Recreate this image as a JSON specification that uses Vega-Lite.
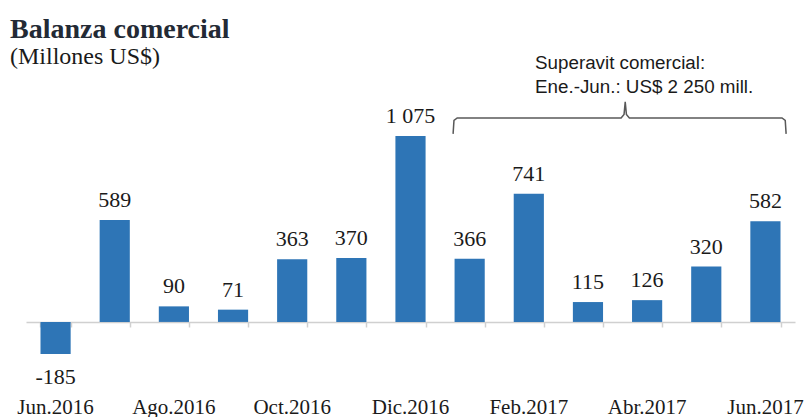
{
  "$schema": "https://vega.github.io/schema/vega-lite/v6.json",
  "width": 769,
  "height": 292,
  "autosize": {"type": "none"},
  "padding": {"left": 26, "right": 9, "top": 100, "bottom": 25},
  "background": "white",
  "title": {
    "text": "Balanza comercial",
    "subtitle": "(Millones US$)",
    "anchor": "start",
    "frame": "group",
    "dx": -16,
    "offset": -15,
    "font": "Liberation Serif",
    "fontSize": 28,
    "fontWeight": "bold",
    "color": "#232a35",
    "subtitleFont": "Liberation Serif",
    "subtitleFontSize": 24,
    "subtitleColor": "#1a1a1a",
    "subtitlePadding": 1
  },
  "config": {
    "view": {"stroke": null},
    "locale": {
      "number": {
        "decimal": ",",
        "thousands": " ",
        "grouping": [3],
        "currency": ["", ""],
        "minus": "-"
      }
    }
  },
  "datasets": {
    "balanza": [
      {"mes": "Jun.2016", "valor": -185},
      {"mes": "Jul.2016", "valor": 589},
      {"mes": "Ago.2016", "valor": 90},
      {"mes": "Set.2016", "valor": 71},
      {"mes": "Oct.2016", "valor": 363},
      {"mes": "Nov.2016", "valor": 370},
      {"mes": "Dic.2016", "valor": 1075},
      {"mes": "Ene.2017", "valor": 366},
      {"mes": "Feb.2017", "valor": 741},
      {"mes": "Mar.2017", "valor": 115},
      {"mes": "Abr.2017", "valor": 126},
      {"mes": "May.2017", "valor": 320},
      {"mes": "Jun.2017", "valor": 582}
    ],
    "llave": [
      {"u": 7.22, "v": 1087, "o": 1},
      {"u": 7.235, "v": 1165, "o": 2},
      {"u": 7.29, "v": 1179, "o": 3},
      {"u": 10.06, "v": 1179, "o": 4},
      {"u": 10.11, "v": 1200, "o": 5},
      {"u": 10.13, "v": 1272, "o": 6},
      {"u": 10.15, "v": 1200, "o": 7},
      {"u": 10.2, "v": 1179, "o": 8},
      {"u": 12.78, "v": 1179, "o": 9},
      {"u": 12.835, "v": 1165, "o": 10},
      {"u": 12.85, "v": 1087, "o": 11}
    ],
    "nota": [
      {"u": 8.605, "v": 1497, "t": "Superavit comercial:"},
      {"u": 8.605, "v": 1358, "t": "Ene.-Jun.: US$ 2 250 mill."}
    ]
  },
  "layer": [
    {
      "data": {"name": "balanza"},
      "encoding": {
        "y": {
          "field": "valor",
          "type": "quantitative",
          "scale": {"domain": [-405, 1283], "nice": false, "zero": false},
          "axis": null
        }
      },
      "layer": [
        {
          "mark": {"type": "bar", "opacity": 0},
          "encoding": {
            "x": {
              "field": "mes",
              "type": "nominal",
              "sort": null,
              "scale": {"paddingInner": 0.49, "paddingOuter": 0.245},
              "axis": {
                "title": null,
                "orient": "bottom",
                "offset": -70,
                "labels": false,
                "domain": true,
                "domainColor": "#d0d0d0",
                "domainWidth": 1.5,
                "ticks": true,
                "tickBand": "extent",
                "tickColor": "#d0d0d0",
                "tickWidth": 1.5,
                "tickSize": 5,
                "zindex": 0
              }
            }
          }
        },
        {
          "mark": {"type": "bar", "color": "#2e75b6"},
          "encoding": {
            "x": {
              "field": "mes",
              "type": "nominal",
              "sort": null,
              "axis": {
                "title": null,
                "orient": "bottom",
                "domain": false,
                "ticks": false,
                "labelAngle": 0,
                "labelOverlap": false,
                "values": ["Jun.2016", "Ago.2016", "Oct.2016", "Dic.2016", "Feb.2017", "Abr.2017", "Jun.2017"],
                "labelFont": "Liberation Serif",
                "labelFontSize": 21,
                "labelColor": "#1a1a1a",
                "labelPadding": 4
              }
            }
          }
        },
        {
          "transform": [{"filter": "datum.valor >= 0"}],
          "mark": {"type": "text", "font": "Liberation Serif", "fontSize": 22, "color": "#1a1a1a", "baseline": "alphabetic", "dy": -13},
          "encoding": {
            "x": {"field": "mes", "type": "nominal", "sort": null, "axis": null},
            "text": {"field": "valor", "type": "quantitative", "format": ",d"}
          }
        },
        {
          "transform": [{"filter": "datum.valor < 0"}],
          "mark": {"type": "text", "font": "Liberation Serif", "fontSize": 22, "color": "#1a1a1a", "baseline": "alphabetic", "dy": 30},
          "encoding": {
            "x": {"field": "mes", "type": "nominal", "sort": null, "axis": null},
            "text": {"field": "valor", "type": "quantitative", "format": ",d"}
          }
        }
      ],
      "resolve": {"axis": {"x": "independent"}}
    },
    {
      "data": {"name": "llave"},
      "mark": {"type": "line", "color": "#595959", "strokeWidth": 1.5, "clip": false},
      "encoding": {
        "x": {"field": "u", "type": "quantitative", "scale": {"domain": [0, 13], "nice": false, "zero": true}, "axis": null},
        "y": {"field": "v", "type": "quantitative"},
        "order": {"field": "o", "type": "quantitative"}
      }
    },
    {
      "data": {"name": "nota"},
      "mark": {"type": "text", "font": "Liberation Sans", "fontSize": 18.8, "color": "#1a1a1a", "align": "left", "baseline": "middle"},
      "encoding": {
        "x": {"field": "u", "type": "quantitative", "scale": {"domain": [0, 13], "nice": false, "zero": true}, "axis": null},
        "y": {"field": "v", "type": "quantitative"},
        "text": {"field": "t", "type": "nominal"}
      }
    }
  ],
  "resolve": {"scale": {"x": "independent"}}
}
